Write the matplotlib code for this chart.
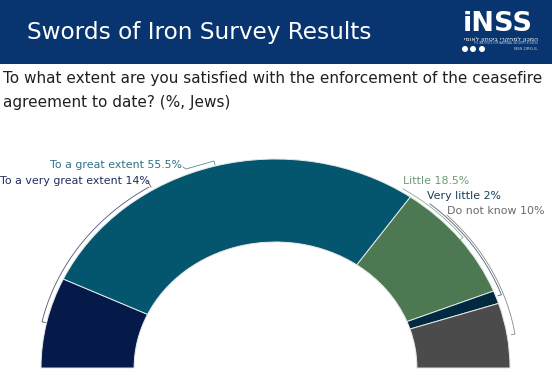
import numpy as np
import matplotlib
matplotlib.use("Agg")
import matplotlib.pyplot as plt
from matplotlib.patches import Rectangle, Circle

W, H = 552, 383

# Datos
categories = ["To a very great extent", "To a great extent", "Little", "Very little", "Do not know"]
values = [14, 55.5, 18.5, 2, 10]
value_labels = ["14%", "55.5%", "18.5%", "2%", "10%"]
colors = ["#061A4A", "#04566F", "#4C7852", "#01293F", "#4B4B4B"]
label_colors = ["#1F2E5E", "#2F7286", "#6E9A76", "#17405A", "#6A6A6A"]

title = "Swords of Iron Survey Results"
question = ["To what extent are you satisfied with the enforcement of the ceasefire",
            "agreement to date? (%, Jews)"]

fig = plt.figure(figsize=(W / 100, H / 100), dpi=100, facecolor="white")
plt.rcParams["font.family"] = ["DejaVu Sans"]

# Fondo en coordenadas de pixel
bg = fig.add_axes([0, 0, 1, 1])
bg.set_xlim(0, W)
bg.set_ylim(H, 0)
bg.axis("off")
bg.add_patch(Rectangle((0, 0), W, 64, color="#08356F", lw=0))
bg.text(27, 32, title, color="white", fontsize=16.65, va="center", ha="left")
bg.text(3, 78, question[0], color="#202020", fontsize=11, va="center", ha="left")
bg.text(3, 102, question[1], color="#202020", fontsize=11, va="center", ha="left")

# Logo
bg.text(463, 31, "iNSS", color="white", fontsize=19.5, fontweight="bold", va="baseline", ha="left")
bg.text(538, 39, "המכון למחקרי ביטחון לאומי"[::-1], color="white", fontsize=4.5, va="center", ha="right")
bg.text(538, 43.5, "THE INSTITUTE FOR NATIONAL SECURITY STUDIES", color="#C8D2E2", fontsize=1.9, va="center", ha="right")
bg.text(538, 49, "INSS.ORG.IL", color="#C8D2E2", fontsize=3, va="center", ha="right")
for cx in [465, 473, 482]:
    bg.add_patch(Circle((cx, 49), 3, color="white", lw=0))

# Dona semicircular (elipse: el eje no tiene aspecto igual)
ax = fig.add_axes([41 / W, (H - 368) / H, 469 / W, 209 / H])
wedges, _ = ax.pie(values + [sum(values)], colors=colors + ["none"], startangle=180, counterclock=False,
                   radius=1, wedgeprops={"width": 0.397, "edgecolor": "none"})
wedges[-1].set_visible(False)
for w in wedges[:-1]:
    w.set_edgecolor("#E4E8E8")
    w.set_linewidth(0.7)
ax.set_aspect("auto")
ax.set_xlim(-1, 1)
ax.set_ylim(0, 1)
ax.axis("off")


def arc_xy(r, a0, a1):
    a = np.radians(np.linspace(a0, a1, 60))
    return r * np.cos(a), r * np.sin(a)


# Corchetes: angulo inicial, angulo final, radio, color
brackets = [(167.5, 122, 1.02, 0), (57.6, 38, 1.015, 2), (50, 20, 1.025, 3), (45, 9, 1.034, 4)]
for a0, a1, r, i in brackets:
    xs, ys = arc_xy(r, a0, a1)
    # marca hacia adentro en el extremo
    xs = np.r_[xs * 1.0, xs[-1] * 0.985] if i else np.r_[xs[0] * 0.985, xs]
    ys = np.r_[ys * 1.0, ys[-1] * 0.985] if i else np.r_[ys[0] * 0.985, ys]
    ax.plot(xs, ys, color=label_colors[i], lw=0.6, alpha=0.8, clip_on=False)

# Lider de la etiqueta 55.5%
bg.plot([183, 186, 214, 215], [167, 169, 161, 165], color=label_colors[1], lw=0.6, alpha=0.8)
# Lider de 14%
bg.plot([147, 151], [180, 187], color=label_colors[0], lw=0.6, alpha=0.8)

# Etiquetas
label_pos = [(0, 181), (50, 165), (403, 181), (427, 196), (447, 211)]
for (px, py), cat, val, col in zip(label_pos, categories, value_labels, label_colors):
    bg.text(px, py, f"{cat} {val}", color=col, fontsize=7.9, va="center", ha="left", zorder=5)

fig.savefig("out.png", dpi=100)
